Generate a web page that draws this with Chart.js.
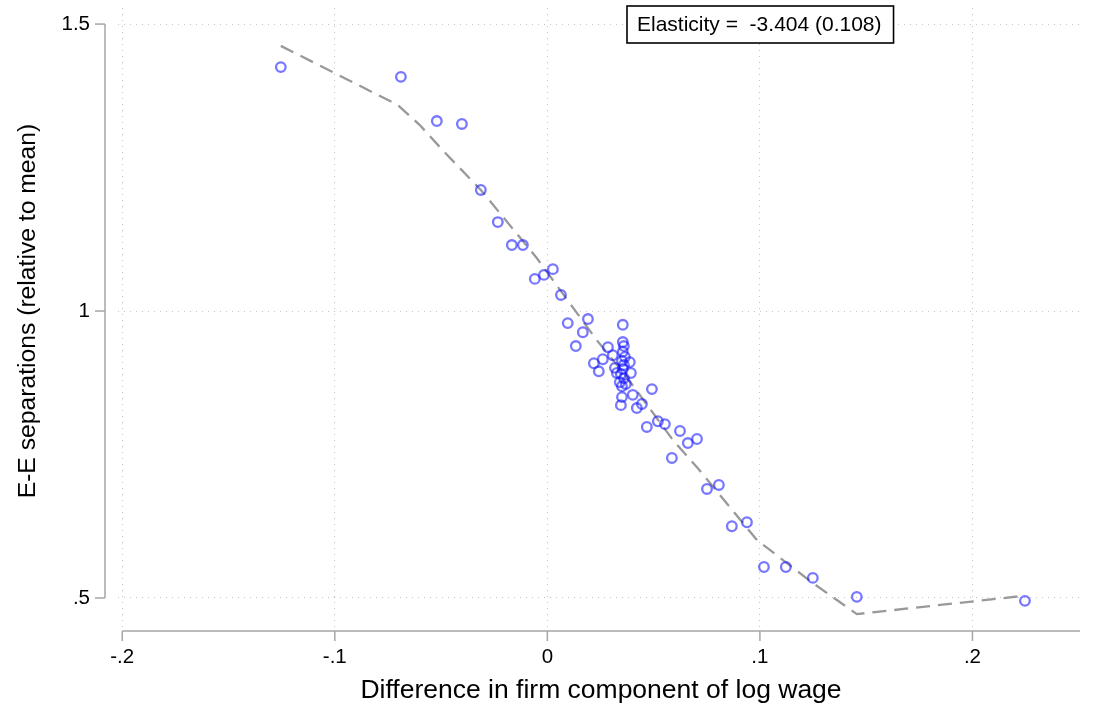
<!DOCTYPE html>
<html>
<head>
<meta charset="utf-8">
<script src="https://cdn.jsdelivr.net/npm/chart.js@4"></script>
<style>
  body { margin: 0; background: #fff; }
  #wrap { width: 1098px; height: 708px; }
</style>
</head>
<body>
<div id="wrap"><canvas id="sepChart"></canvas></div>
<script>
// binned firm-component differences vs. E-E separation rates
const wageDiff = [
  -0.1254, -0.0689, -0.0520, -0.0402, -0.0313, -0.0233, -0.0167, -0.0115,
  -0.0059, -0.0016, 0.0026, 0.0064, 0.0096, 0.0191, 0.0167, 0.0134,
  0.0285, 0.0261, 0.0219, 0.0242, 0.0318, 0.0308, 0.0355,
  0.0355, 0.0360, 0.0355, 0.0365, 0.0351, 0.0360, 0.0388, 0.0355,
  0.0346, 0.0393, 0.0360, 0.0341, 0.0351, 0.0369, 0.0402, 0.0351,
  0.0346, 0.0327, 0.0492, 0.0421, 0.0445, 0.0468, 0.0520, 0.0553,
  0.0624, 0.0661, 0.0704, 0.0586, 0.0751, 0.0807, 0.0868, 0.0939,
  0.1019, 0.1122, 0.1249, 0.1456, 0.2247
];
const separations = [
  1.425, 1.408, 1.331, 1.326, 1.211, 1.155, 1.115, 1.115,
  1.056, 1.063, 1.073, 1.028, 0.979, 0.986, 0.963, 0.939,
  0.937, 0.916, 0.909, 0.895, 0.901, 0.923, 0.976,
  0.946, 0.939, 0.929, 0.920, 0.913, 0.906, 0.911, 0.899,
  0.890, 0.892, 0.883, 0.876, 0.869, 0.873, 0.854, 0.850,
  0.836, 0.892, 0.864, 0.831, 0.838, 0.798, 0.808, 0.803,
  0.791, 0.770, 0.777, 0.744, 0.690, 0.697, 0.625, 0.632,
  0.554, 0.554, 0.535, 0.502, 0.495
];

// smoothed fit
const fitX = [-0.1254, -0.0704, -0.0600, -0.0492, -0.0313, -0.0049, 0.0233,
  0.0365, 0.0591, 0.0708, 0.0986, 0.1249, 0.1456, 0.2247];
const fitY = [1.462, 1.359, 1.324, 1.280, 1.211, 1.092, 0.949,
  0.889, 0.775, 0.726, 0.601, 0.526, 0.472, 0.504];

const xTicks = [-0.2, -0.1, 0, 0.1, 0.2];
const xTickLabels = ["-.2", "-.1", "0", ".1", ".2"];
const yTicks = [0.5, 1, 1.5];
const yTickLabels = [".5", "1", "1.5"];

const elasticityText = "Elasticity =  -3.404 (0.108)";
const xTitle = "Difference in firm component of log wage";
const yTitle = "E-E separations (relative to mean)";

const FONT = '"Liberation Sans", Arial, sans-serif';
const AXIS_GRAY = "#a6a6a6";

// axes are drawn Stata-style, offset from the plot region
const stataAxes = {
  id: "stataAxes",
  afterDraw(chart) {
    const { ctx, chartArea, scales } = chart;
    const xs = scales.x, ys = scales.y;
    ctx.save();
    ctx.strokeStyle = AXIS_GRAY;
    ctx.lineWidth = 1.5;

    // y axis
    const yAxisX = 105;
    const yTop = ys.getPixelForValue(yTicks[yTicks.length - 1]);
    const yBot = ys.getPixelForValue(yTicks[0]);
    ctx.beginPath();
    ctx.moveTo(yAxisX, yTop);
    ctx.lineTo(yAxisX, yBot);
    ctx.stroke();

    ctx.fillStyle = "#000";
    ctx.font = "20.5px " + FONT;
    ctx.textAlign = "right";
    ctx.textBaseline = "middle";
    yTicks.forEach((v, i) => {
      const py = ys.getPixelForValue(v);
      ctx.beginPath();
      ctx.moveTo(yAxisX - 10, py);
      ctx.lineTo(yAxisX, py);
      ctx.stroke();
      ctx.fillText(yTickLabels[i], yAxisX - 15, py);
    });

    // x axis
    const xAxisY = chartArea.bottom;
    ctx.beginPath();
    ctx.moveTo(xs.getPixelForValue(xTicks[0]), xAxisY);
    ctx.lineTo(chartArea.right, xAxisY);
    ctx.stroke();

    ctx.textAlign = "center";
    ctx.textBaseline = "top";
    xTicks.forEach((v, i) => {
      const px = xs.getPixelForValue(v);
      ctx.beginPath();
      ctx.moveTo(px, xAxisY);
      ctx.lineTo(px, xAxisY + 10);
      ctx.stroke();
      ctx.fillText(xTickLabels[i], px, xAxisY + 16);
    });

    // axis titles
    ctx.textBaseline = "middle";
    ctx.font = "26.5px " + FONT;
    ctx.fillText(xTitle, 601, 691);
    ctx.font = "24.7px " + FONT;
    ctx.save();
    ctx.translate(28, (yTop + yBot) / 2);
    ctx.rotate(-Math.PI / 2);
    ctx.fillText(yTitle, 0, 0);
    ctx.restore();

    // elasticity box
    ctx.font = "21px " + FONT;
    const tw = ctx.measureText(elasticityText).width;
    const bx = 627, by = 6, bw = tw + 22, bh = 37;
    ctx.fillStyle = "#fff";
    ctx.fillRect(bx, by, bw, bh);
    ctx.strokeStyle = "#000";
    ctx.lineWidth = 1.6;
    ctx.strokeRect(bx, by, bw, bh);
    ctx.fillStyle = "#000";
    ctx.textAlign = "left";
    ctx.fillText(elasticityText, bx + 10, by + bh / 2 + 1);
    ctx.restore();
  }
};

const scatterPts = wageDiff.map((x, i) => ({ x, y: separations[i] }));
const fitPts = fitX.map((x, i) => ({ x, y: fitY[i] }));

new Chart(document.getElementById("sepChart"), {
  type: "scatter",
  data: {
    datasets: [
      {
        type: "line",
        data: fitPts,
        borderColor: "#999999",
        borderWidth: 2.3,
        borderDash: [14, 8],
        pointRadius: 0,
        fill: false,
        tension: 0,
        order: 2,
      },
      {
        data: scatterPts,
        borderColor: "rgba(20, 20, 255, 0.58)",
        backgroundColor: "rgba(0,0,0,0)",
        borderWidth: 2.3,
        pointRadius: 4.8,
        order: 1,
      },
    ],
  },
  options: {
    responsive: true,
    maintainAspectRatio: false,
    animation: false,
    layout: { padding: { left: 118, right: 18, top: 8, bottom: 77 } },
    plugins: {
      legend: { display: false },
      tooltip: { enabled: false },
    },
    scales: {
      x: {
        type: "linear",
        min: -0.202,
        max: 0.2506,
        afterBuildTicks: (s) => { s.ticks = xTicks.map((v) => ({ value: v })); },
        ticks: { display: false },
        grid: { color: "#c4c4c4", drawTicks: false, lineWidth: 1 },
        border: { display: false, dash: [1, 5] },
      },
      y: {
        type: "linear",
        min: 0.4425,
        max: 1.528,
        afterBuildTicks: (s) => { s.ticks = yTicks.map((v) => ({ value: v })); },
        ticks: { display: false },
        grid: { color: "#c4c4c4", drawTicks: false, lineWidth: 1 },
        border: { display: false, dash: [1, 5] },
      },
    },
  },
  plugins: [stataAxes],
});
</script>
</body>
</html>
